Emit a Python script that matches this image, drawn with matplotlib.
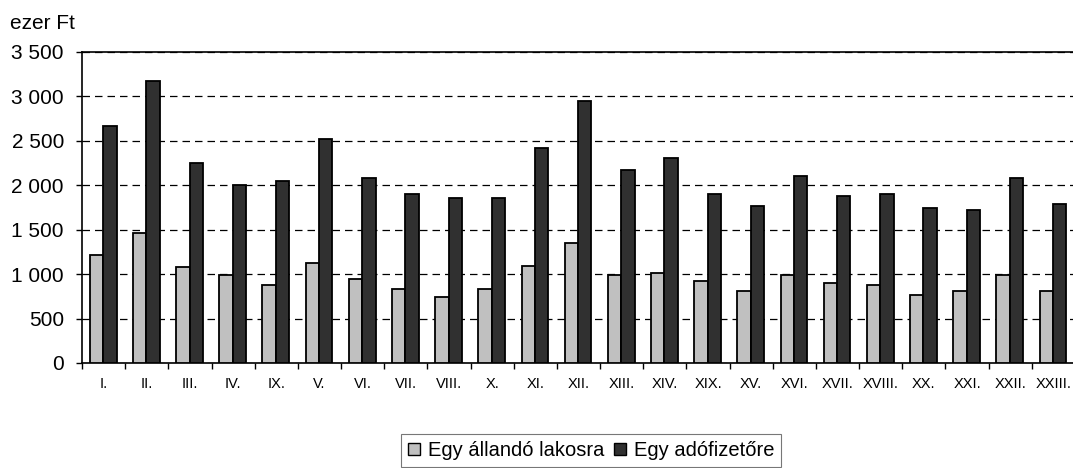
import matplotlib.pyplot as plt
import numpy as np
from matplotlib.ticker import FuncFormatter

plt.rcParams['font.family'] = ['Liberation Sans', 'DejaVu Sans']

# Data (ezer Ft)
districts = ['I.', 'II.', 'III.', 'IV.', 'IX.', 'V.', 'VI.', 'VII.', 'VIII.', 'X.',
             'XI.', 'XII.', 'XIII.', 'XIV.', 'XIX.', 'XV.', 'XVI.', 'XVII.', 'XVIII.',
             'XX.', 'XXI.', 'XXII.', 'XXIII.']
per_resident = [1213, 1460, 1078, 988, 876, 1123, 944, 833, 743, 833,
                1097, 1346, 989, 1011, 922, 810, 989, 900, 874,
                766, 810, 989, 810]
per_taxpayer = [2670, 3170, 2246, 1999, 2048, 2516, 2082, 1903, 1859, 1859,
                2416, 2952, 2171, 2305, 1903, 1770, 2104, 1881, 1903,
                1747, 1725, 2082, 1792]

W, H = 1073, 468
fig = plt.figure(figsize=(W / 100, H / 100), dpi=100)
# plot area runs a bit past the right edge, like the original
ax = fig.add_axes([82 / W, 1 - 363 / H, 993 / W, 311 / H])

x = np.arange(len(districts))
bw = 0.31
ax.bar(x - 0.165, per_resident, bw, color='#c0c0c0', edgecolor='black', linewidth=1.3,
       label='Egy állandó lakosra', zorder=3)
ax.bar(x + 0.145, per_taxpayer, bw, color='#303030', edgecolor='black', linewidth=1.3,
       label='Egy adófizetőre', zorder=3)

ax.set_xlim(-0.5, len(districts) - 0.5)
ax.set_ylim(0, 3500)
ax.set_yticks(np.arange(0, 3501, 500))
ax.yaxis.set_major_formatter(FuncFormatter(lambda v, p: f'{int(v):,}'.replace(',', ' ')))
ax.grid(axis='y', color='black', linestyle=(0, (6, 4)), linewidth=0.9, zorder=0)

# ticks at category boundaries, labels at centres
ax.set_xticks(np.arange(-0.5, len(districts), 1.0))
ax.set_xticklabels([])
ax.set_xticks(x, minor=True)
ax.set_xticklabels(districts, minor=True, fontsize=10.5)
ax.tick_params(axis='x', which='minor', length=0, pad=10)
ax.tick_params(axis='x', which='major', length=4, width=1)
ax.tick_params(axis='y', length=4, width=1, labelsize=15, pad=9)

for s in ['left', 'bottom', 'top']:
    ax.spines[s].set_linewidth(1.2)
ax.spines['right'].set_visible(False)

fig.text(10 / W, 1 - 29 / H, 'ezer Ft', fontsize=15, va='baseline')

leg = ax.legend(loc='upper left', bbox_to_anchor=(401 / W, 1 - 434 / H),
                bbox_transform=fig.transFigure, ncol=2, fontsize=14.5,
                frameon=True, fancybox=False, edgecolor='#555555',
                handlelength=0.6, handleheight=0.6, handletextpad=0.4,
                columnspacing=0.45, borderpad=0.35, borderaxespad=0)
leg.get_frame().set_linewidth(0.8)
for h in leg.legend_handles:
    h.set_linewidth(1.0)

fig.savefig('out.png', dpi=100)
